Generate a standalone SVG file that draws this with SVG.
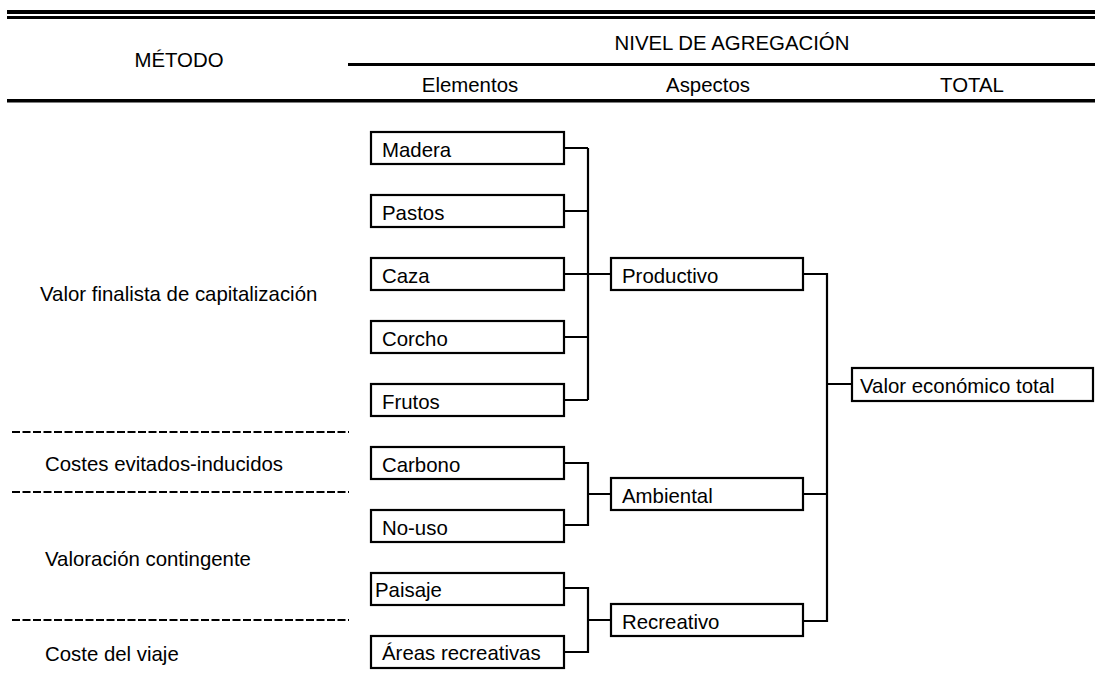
<svg xmlns="http://www.w3.org/2000/svg" width="1101" height="679" viewBox="0 0 1101 679">
<style>
text{font-family:"Liberation Sans",Arial,sans-serif;font-size:20.4px;fill:#000}
.c{text-anchor:middle}
.box rect{fill:#fff;stroke:#000;stroke-width:2.2}
.conn path{fill:none;stroke:#000;stroke-width:2.2}
.dash{stroke:#000;stroke-width:2;stroke-dasharray:8 2.5;fill:none}
</style>
<g id="header">
<rect x="7" y="10" width="1088" height="4"/>
<rect x="7" y="16" width="1088" height="3"/>
<rect x="348" y="63" width="747" height="3"/>
<rect x="7" y="99" width="1088" height="3.5"/>
<text class="c" x="179" y="67">MÉTODO</text>
<text class="c" x="732" y="50">NIVEL DE AGREGACIÓN</text>
<text class="c" x="470" y="92">Elementos</text>
<text class="c" x="708" y="92">Aspectos</text>
<text class="c" x="972" y="92">TOTAL</text>
</g>
<g id="methods">
<text x="40" y="301">Valor finalista de capitalización</text>
<line class="dash" x1="12" y1="432" x2="349" y2="432"/>
<text x="45" y="471">Costes evitados-inducidos</text>
<line class="dash" x1="12" y1="492" x2="349" y2="492"/>
<text x="45" y="566">Valoración contingente</text>
<line class="dash" x1="12" y1="620" x2="349" y2="620"/>
<text x="45" y="661">Coste del viaje</text>
</g>
<g class="conn" id="connectors">
<path d="M564 148H588M564 211H588M564 274H611M564 337H588M564 400H588M588 148V400"/>
<path d="M564 463H588V525H564M588 494H611"/>
<path d="M564 588H588V652H564M588 620H611"/>
<path d="M803 274H827V621H803M803 494H827M827 384H852"/>
</g>
<g class="box" id="madera"><rect x="371" y="132" width="193" height="32"/><text x="382" y="157">Madera</text></g>
<g class="box" id="pastos"><rect x="371" y="195" width="193" height="32"/><text x="382" y="220">Pastos</text></g>
<g class="box" id="caza"><rect x="371" y="258" width="193" height="32"/><text x="382" y="283">Caza</text></g>
<g class="box" id="corcho"><rect x="371" y="321" width="193" height="32"/><text x="382" y="346">Corcho</text></g>
<g class="box" id="frutos"><rect x="371" y="384" width="193" height="32"/><text x="382" y="409">Frutos</text></g>
<g class="box" id="carbono"><rect x="371" y="447" width="193" height="32"/><text x="382" y="472">Carbono</text></g>
<g class="box" id="nouso"><rect x="371" y="510" width="193" height="32"/><text x="382" y="535">No-uso</text></g>
<g class="box" id="paisaje"><rect x="371" y="573" width="193" height="32"/><text x="375" y="597">Paisaje</text></g>
<g class="box" id="areas"><rect x="371" y="636" width="193" height="32"/><text x="382" y="660">Áreas recreativas</text></g>
<g class="box" id="productivo"><rect x="611" y="258" width="192" height="32"/><text x="622" y="283">Productivo</text></g>
<g class="box" id="ambiental"><rect x="611" y="478" width="192" height="32"/><text x="622" y="503">Ambiental</text></g>
<g class="box" id="recreativo"><rect x="611" y="604" width="192" height="32"/><text x="622" y="629">Recreativo</text></g>
<g class="box" id="total"><rect x="852" y="368" width="241" height="33"/><text x="860" y="393">Valor económico total</text></g>
</svg>
